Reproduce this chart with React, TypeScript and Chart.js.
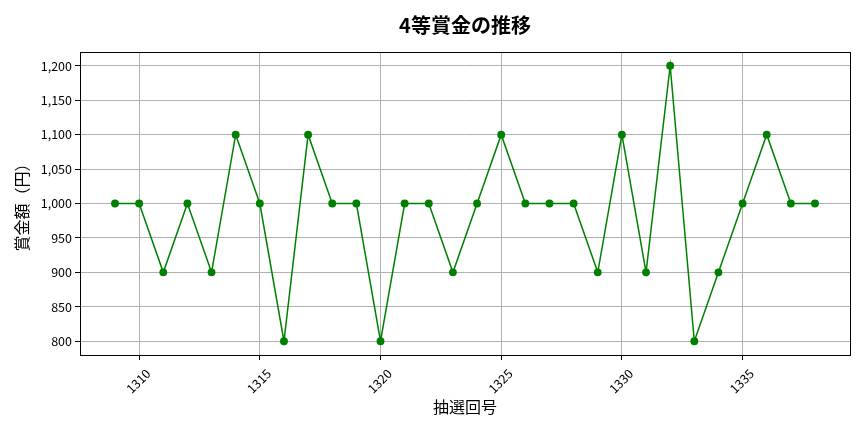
import { Chart, registerables } from 'chart.js';
import { useEffect, useRef } from 'react';

Chart.register(...registerables);

// 抽選回 and 4等賞金 (円)
const drawNumbers = [
    1309, 1310, 1311, 1312, 1313, 1314, 1315, 1316, 1317, 1318, 1319, 1320, 1321, 1322, 1323, 1324, 1325, 1326,
    1327, 1328, 1329, 1330, 1331, 1332, 1333, 1334, 1335, 1336, 1337, 1338,
];
const prizeValues = [
    1000, 1000, 900, 1000, 900, 1100, 1000, 800, 1100, 1000, 1000, 800, 1000, 1000, 900, 1000, 1100, 1000, 1000,
    1000, 900, 1100, 900, 1200, 800, 900, 1000, 1100, 1000, 1000,
];
const xTicks = [1310, 1315, 1320, 1325, 1330, 1335];
const yTicks = [800, 850, 900, 950, 1000, 1050, 1100, 1150, 1200];
const chartTitle = '4等賞金の推移';

const FONT = "'Noto Sans CJK JP', 'Noto Sans', sans-serif";

// matplotlib style box around the plot area, plus a title centred over it
const frame = {
    id: 'frame',
    afterDraw(chart: any) {
        const { ctx, chartArea } = chart;
        ctx.save();
        ctx.strokeStyle = '#000';
        ctx.lineWidth = 1;
        ctx.strokeRect(chartArea.left + 0.5, chartArea.top + 0.5, chartArea.right - chartArea.left, chartArea.bottom - chartArea.top);
        ctx.fillStyle = '#000';
        ctx.font = `bold 20px ${FONT}`;
        ctx.textAlign = 'center';
        ctx.textBaseline = 'middle';
        ctx.fillText(chartTitle, (chartArea.left + chartArea.right) / 2, 25);
        ctx.restore();
    },
};

export default function App() {
    const chartRef = useRef<HTMLCanvasElement>(null);
    const chartInstance = useRef<Chart | null>(null);

    useEffect(() => {
        document.body.style.margin = '0';
        if (!chartRef.current) return;
        if (chartInstance.current) chartInstance.current.destroy();

        const ctx = chartRef.current.getContext('2d');
        if (!ctx) return;

        const config: any = {
            type: 'line',
            data: {
                datasets: [
                    {
                        label: '4等賞金',
                        data: drawNumbers.map((n, i) => ({ x: n, y: prizeValues[i] })),
                        borderColor: '#008000',
                        backgroundColor: '#008000',
                        borderWidth: 1.5,
                        pointRadius: 3.2,
                        pointHoverRadius: 3.2,
                        tension: 0,
                        fill: false,
                    },
                ],
            },
            options: {
                animation: false,
                responsive: true,
                maintainAspectRatio: false,
                layout: { padding: { left: 0, right: 14, top: 52, bottom: 0 } },
                plugins: {
                    legend: { display: false },
                    tooltip: { enabled: false },
                    title: { display: false },
                },
                scales: {
                    x: {
                        type: 'linear',
                        min: 1307.55,
                        max: 1339.45,
                        afterBuildTicks: (scale: any) => {
                            scale.ticks = xTicks.map((v) => ({ value: v }));
                        },
                        afterFit: (scale: any) => {
                            scale.height = 77;
                        },
                        ticks: {
                            color: '#000',
                            font: { family: FONT, size: 12.5 },
                            minRotation: 45,
                            maxRotation: 45,
                            padding: 6,
                            labelOffset: 9,
                            callback: (v: number) => String(v),
                        },
                        grid: { color: '#b0b0b0', tickColor: '#000', tickLength: 5, lineWidth: 1 },
                        border: { display: true, color: '#000' },
                        title: {
                            display: true,
                            text: '抽選回号',
                            color: '#000',
                            font: { family: FONT, size: 16, lineHeight: 1.2 },
                            padding: { top: 0, bottom: 15.4 },
                        },
                    },
                    y: {
                        type: 'linear',
                        min: 780,
                        max: 1220,
                        afterBuildTicks: (scale: any) => {
                            scale.ticks = yTicks.map((v) => ({ value: v }));
                        },
                        afterFit: (scale: any) => {
                            scale.width = 80;
                        },
                        ticks: {
                            color: '#000',
                            font: { family: FONT, size: 12.5 },
                            padding: 3,
                            callback: (v: number) => v.toLocaleString('en-US'),
                        },
                        grid: { color: '#b0b0b0', tickColor: '#000', tickLength: 5, lineWidth: 1 },
                        border: { display: true, color: '#000' },
                        title: {
                            display: true,
                            text: '賞金額（円）',
                            color: '#000',
                            font: { family: FONT, size: 16, lineHeight: 1.2 },
                            padding: { top: 12.4, bottom: 0 },
                        },
                    },
                },
            },
            plugins: [frame],
        };

        chartInstance.current = new Chart(ctx, config);

        return () => {
            if (chartInstance.current) chartInstance.current.destroy();
        };
    }, []);

    return (
        <div style={{ width: 864, height: 432, position: 'relative', background: '#fff' }}>
            <canvas ref={chartRef} />
        </div>
    );
}
